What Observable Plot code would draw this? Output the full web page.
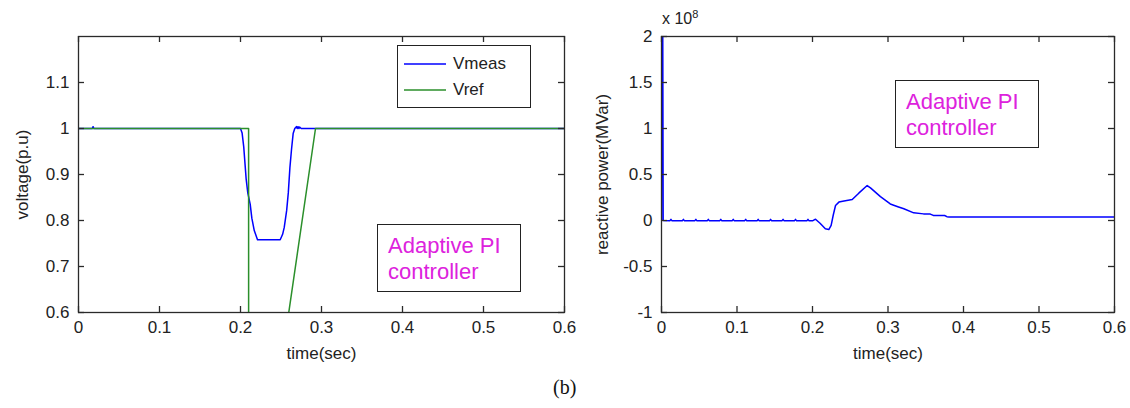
<!DOCTYPE html>
<html>
<head>
<meta charset="utf-8">
<script src="https://cdn.jsdelivr.net/npm/d3@7"></script>
<script src="https://cdn.jsdelivr.net/npm/@observablehq/plot@0.6"></script>
<style>
  html, body { margin: 0; padding: 0; background: #fff; }
  #root { position: relative; width: 1130px; height: 408px; overflow: hidden; background: #fff;
          font-family: "Liberation Sans", Arial, sans-serif; color: #222; }
  .chart { position: absolute; top: 0; }
  .box { position: absolute; border: 1px solid #222; background: #fff; box-sizing: border-box; }
  .note { color: #dd22dd; font-size: 22px; line-height: 26px; padding: 8px 0 0 10px; }
  .legend { font-size: 17px; line-height: 26px; padding: 5px 0 0 6px; }
  .legend .row { display: flex; align-items: center; height: 26px; }
  .legend svg { margin-right: 7px; }
  .exp { position: absolute; font-size: 16px; color: #222; }
  .cap { position: absolute; font-family: "Liberation Serif", "Times New Roman", serif; font-size: 20px; color: #111; }
</style>
</head>
<body>
<div id="root"></div>
<script>
// ---- data ----
const xTicks = [0, 0.1, 0.2, 0.3, 0.4, 0.5, 0.6];
const yTicksV = [0.6, 0.7, 0.8, 0.9, 1, 1.1];
const yTicksQ = [-1, -0.5, 0, 0.5, 1, 1.5, 2];

const tMeas = [0, 0.017, 0.018, 0.019, 0.2, 0.202, 0.204, 0.207, 0.209, 0.212, 0.214, 0.217, 0.221,
               0.249, 0.252, 0.254, 0.257, 0.259, 0.261, 0.263, 0.265, 0.267, 0.269, 0.270, 0.271,
               0.272, 0.273, 0.275, 0.6];
const vMeas = [1, 1, 1.004, 1, 1, 0.99, 0.96, 0.89, 0.86, 0.835, 0.805, 0.778, 0.758,
               0.758, 0.77, 0.785, 0.822, 0.86, 0.915, 0.955, 0.989, 1, 1.004, 1, 1.004,
               1, 1.003, 1, 1];

const tRef = [0, 0.21, 0.2101, 0.2926, 0.6];
const vRef = [1, 1, 0, 1, 1];

// reactive power, in units of 1e8 (axis shows "x 10^8")
const tQ = [0, 0.0004, 0.0014, 0.0022, 0.011, 0.0125, 0.014, 0.0275, 0.029, 0.0305, 0.044, 0.0455, 0.047,
            0.0605, 0.062, 0.0635, 0.077, 0.0785, 0.08, 0.0935, 0.095, 0.0965, 0.11, 0.1115, 0.113,
            0.1265, 0.128, 0.1295, 0.143, 0.1445, 0.146, 0.1595, 0.161, 0.1625, 0.176, 0.1775, 0.179,
            0.1925, 0.194, 0.1955, 0.2, 0.204, 0.21, 0.217, 0.2216, 0.2247, 0.2275, 0.2305, 0.235,
            0.24, 0.2526, 0.2613, 0.2724, 0.2768, 0.29, 0.303, 0.313, 0.321, 0.334, 0.347, 0.356,
            0.36, 0.375, 0.378, 0.381, 0.6];
const qVals = [0, 3, 3, 0, -0.004, 0.012, -0.004, -0.004, 0.012, -0.004, -0.004, 0.012, -0.004,
               -0.004, 0.012, -0.004, -0.004, 0.012, -0.004, -0.004, 0.012, -0.004, -0.004, 0.012, -0.004,
               -0.004, 0.012, -0.004, -0.004, 0.012, -0.004, -0.004, 0.012, -0.004, -0.004, 0.012, -0.004,
               -0.004, 0.012, -0.004, -0.004, 0.014, -0.03, -0.09, -0.098, -0.054, 0.06, 0.163, 0.2,
               0.21, 0.228, 0.297, 0.38, 0.355, 0.26, 0.18, 0.15, 0.127, 0.083, 0.072, 0.07,
               0.055, 0.054, 0.042, 0.038, 0.038];

const legendNames = ["Vmeas", "Vref"];
const noteText = ["Adaptive PI", "controller"];
const xLabel = "time(sec)";
const yLabelV = "voltage(p.u)";
const yLabelQ = "reactive power(MVar)";
const caption = "(b)";

// ---- build tables ----
const meas = tMeas.map((t, i) => ({t, v: vMeas[i]}));
const ref = tRef.map((t, i) => ({t, v: vRef[i]}));
const qData = tQ.map((t, i) => ({t, q: qVals[i]}));

const fmt = d => String(d);
const axisColor = "#2a2a2a";
const blue = "#0000ff";
const green = "#2b8f2b";
const fontFam = "'Liberation Sans', Arial, sans-serif";
const TICK = 6;

function frameAxes(yTicks, yLabel, yOffset, fw, fh) {
  return [
    Plot.frame({stroke: axisColor, strokeWidth: 1.3}),
    Plot.axisX({ticks: xTicks, anchor: "bottom", tickSize: 0, tickPadding: 8, tickFormat: fmt,
                label: xLabel, labelAnchor: "center", labelArrow: "none", labelOffset: 46}),
    Plot.axisY({ticks: yTicks, anchor: "left", tickSize: 0, tickPadding: 9, tickFormat: fmt,
                label: yLabel, labelAnchor: "center", labelArrow: "none", labelOffset: yOffset}),
    // inward tick marks on all four sides
    Plot.tickX(xTicks, {stroke: axisColor, strokeWidth: 1.3, insetTop: fh - TICK}),
    Plot.tickX(xTicks, {stroke: axisColor, strokeWidth: 1.3, insetBottom: fh - TICK}),
    Plot.tickY(yTicks, {stroke: axisColor, strokeWidth: 1.3, insetRight: fw - TICK}),
    Plot.tickY(yTicks, {stroke: axisColor, strokeWidth: 1.3, insetLeft: fw - TICK})
  ];
}

const style = {fontFamily: fontFam, fontSize: "17px", color: "#222", background: "transparent", overflow: "visible"};

const left = Plot.plot({
  width: 600, height: 370, marginLeft: 78, marginRight: 36, marginTop: 36, marginBottom: 58,
  style,
  x: {domain: [0, 0.6]},
  y: {domain: [0.6, 1.2]},
  marks: [
    Plot.line(meas, {x: "t", y: "v", stroke: blue, strokeWidth: 1.5, clip: true}),
    Plot.line(ref, {x: "t", y: "v", stroke: green, strokeWidth: 1.5, clip: true}),
    ...frameAxes(yTicksV, yLabelV, 63, 600 - 78 - 36, 370 - 36 - 58)
  ]
});

const right = Plot.plot({
  width: 550, height: 370, marginLeft: 81, marginRight: 16, marginTop: 36, marginBottom: 58,
  style,
  x: {domain: [0, 0.6]},
  y: {domain: [-1, 2]},
  marks: [
    Plot.line(qData, {x: "t", y: "q", stroke: blue, strokeWidth: 1.5, clip: true}),
    ...frameAxes(yTicksQ, yLabelQ, 66, 550 - 81 - 16, 370 - 36 - 58)
  ]
});

const root = document.getElementById("root");
left.classList.add("chart"); left.style.left = "0px";
right.classList.add("chart"); right.style.left = "580px";
root.appendChild(left);
root.appendChild(right);

// legend (left panel)
const leg = document.createElement("div");
leg.className = "box legend";
Object.assign(leg.style, {left: "397px", top: "45px", width: "134px", height: "63px"});
const legColors = [blue, green];
legendNames.forEach((n, i) => {
  const r = document.createElement("div"); r.className = "row";
  r.innerHTML = `<svg width="42" height="4"><line x1="0" x2="42" y1="2" y2="2" stroke="${legColors[i]}" stroke-width="1.5"/></svg>`;
  const tx = document.createElement("span"); tx.textContent = n;
  r.appendChild(tx); leg.appendChild(r);
});
root.appendChild(leg);

// annotation boxes
function note(x, y) {
  const b = document.createElement("div");
  b.className = "box note";
  Object.assign(b.style, {left: x + "px", top: y + "px", width: "144px", height: "68px"});
  b.innerHTML = noteText.join("<br>");
  root.appendChild(b);
}
note(377, 224);
note(895, 80);

// exponent label
const ex = document.createElement("div");
ex.className = "exp";
Object.assign(ex.style, {left: "662px", top: "8px"});
ex.innerHTML = "x 10<sup style='font-size:11px;vertical-align:6px'>8</sup>";
root.appendChild(ex);

// caption
const cap = document.createElement("div");
cap.className = "cap";
Object.assign(cap.style, {left: "553px", top: "376px"});
cap.textContent = caption;
root.appendChild(cap);
</script>
</body>
</html>
